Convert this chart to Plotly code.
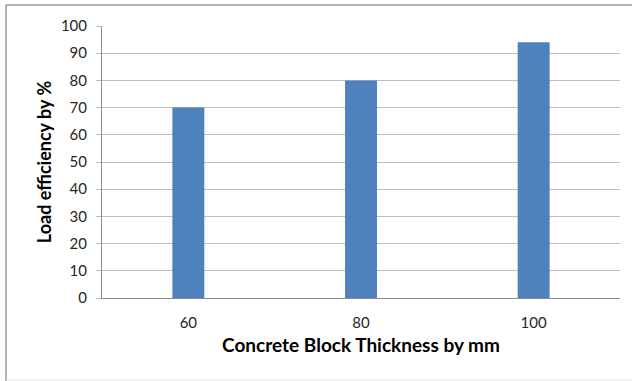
import plotly.graph_objects as go

# Block thickness categories and measured load efficiency
thickness_mm = ["60", "80", "100"]
load_efficiency = [70, 80, 94]
y_ticks = list(range(0, 101, 10))

W, H = 632, 381
ML, MR, MT, MB = 102, 12, 26, 83
PW, PH = W - ML - MR, H - MT - MB

FONT = "Lato, Calibri, Carlito, sans-serif"

fig = go.Figure(
    go.Bar(
        x=thickness_mm,
        y=load_efficiency,
        marker=dict(color="#4F81BD", line=dict(width=0)),
        width=0.185,
    )
)


def px_x(v):
    return (v - ML) / PW


def px_y(v):
    return (H - MB - v) / PH


# Thin gray frame on top, left and bottom of the chart area
frame = dict(type="line", xref="paper", yref="paper", line=dict(color="#9a9a9a", width=1.5))
fig.add_shape(**frame, x0=px_x(6), x1=px_x(632), y0=px_y(5), y1=px_y(5))
fig.add_shape(**frame, x0=px_x(6), x1=px_x(6), y0=px_y(5), y1=px_y(381))
fig.add_shape(type="line", xref="paper", yref="paper", line=dict(color="#e4e4e4", width=1),
              x0=px_x(6), x1=px_x(632), y0=px_y(380), y1=px_y(380))

fig.update_layout(
    width=W,
    height=H,
    margin=dict(l=ML, r=MR, t=MT, b=MB),
    paper_bgcolor="white",
    plot_bgcolor="white",
    showlegend=False,
    font=dict(family=FONT, size=14, color="#262626"),
    bargap=0.815,
)

fig.update_xaxes(
    type="category",
    range=[-0.5, 2.5],
    showgrid=False,
    showline=True,
    linecolor="#8c8c8c",
    linewidth=1,
    ticks="",
    ticklabelstandoff=11,
    tickfont=dict(family=FONT, size=15, color="#262626"),
    title=dict(text="<b>Concrete Block Thickness by mm</b>",
               font=dict(family=FONT, size=19, color="#000000"), standoff=8),
)

fig.update_yaxes(
    range=[0, 100],
    tickvals=y_ticks,
    showgrid=True,
    gridcolor="#bfbfbf",
    gridwidth=1,
    showline=True,
    linecolor="#8c8c8c",
    linewidth=1,
    ticks="outside",
    ticklen=5,
    tickcolor="#bfbfbf",
    ticklabelstandoff=6,
    zeroline=False,
    tickfont=dict(family=FONT, size=15, color="#262626"),
    title=dict(text="<b>Load efficiency by %</b>",
               font=dict(family=FONT, size=18, color="#000000"), standoff=4),
)

fig.write_html("out.html")
